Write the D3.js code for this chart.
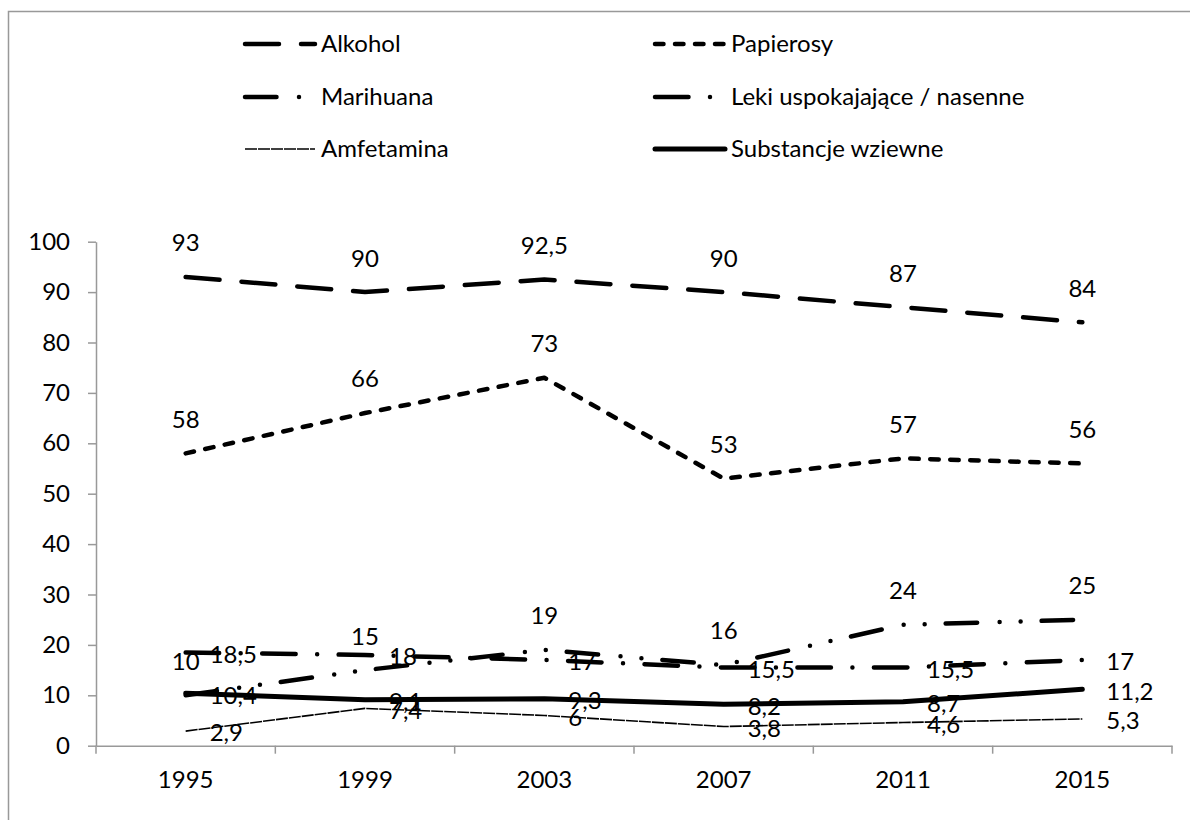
<!DOCTYPE html>
<html>
<head>
<meta charset="utf-8">
<script src="https://cdn.jsdelivr.net/npm/d3@7"></script>
<style>
  body { margin: 0; background: #fff; }
  text { font-family: Lato, "Open Sans", sans-serif; fill: #000; }
</style>
</head>
<body>
<div id="chart"></div>
<script>
const years = ['1995', '1999', '2003', '2007', '2011', '2015'];
const yTicks = [0, 10, 20, 30, 40, 50, 60, 70, 80, 90, 100];

const alkohol = [93, 90, 92.5, 90, 87, 84];
const papierosy = [58, 66, 73, 53, 57, 56];
const marihuana = [10, 15, 19, 16, 24, 25];
const leki = [18.5, 18, 17, 15.5, 15.5, 17];
const amfetamina = [2.9, 7.4, 6, 3.8, 4.6, 5.3];
const substancje = [10.4, 9.1, 9.3, 8.2, 8.7, 11.2];

const seriesNames = ['Alkohol', 'Papierosy', 'Marihuana', 'Leki uspokajające / nasenne', 'Amfetamina', 'Substancje wziewne'];

let width = 1190,
	height = 820;
let margin = { top: 241.7, right: 18, bottom: 74.3, left: 96 };
let fontSize = 24;

// line looks, in legend order
let styles = [
	{ w: 4.5, dash: '34,22', cap: 'round', label: 'above' },
	{ w: 4.5, dash: '8.5,11.5', cap: 'round', label: 'above' },
	{ w: 4.5, dash: '31.5,22.5,0,21,0,21', cap: 'round', label: 'above' },
	{ w: 4.5, dash: '33.5,21.5,0,21.5', cap: 'round', label: 'right' },
	{ w: 1.6, dash: '12,1', cap: 'butt', label: 'right' },
	{ w: 5, dash: null, cap: 'round', label: 'right' }
];
let values = [alkohol, papierosy, marihuana, leki, amfetamina, substancje];

let x = d3.scaleBand().domain(years).range([margin.left, width - margin.right]).padding(0);
let y = d3.scaleLinear().domain([0, 100]).range([height - margin.bottom, margin.top]);
let cx = (d) => x(d) + x.bandwidth() / 2;
let fmt = (v) => String(v).replace('.', ',');

const svg = d3.select('#chart').append('svg').attr('width', width).attr('height', height);

// chart frame
svg.append('rect')
	.attr('x', 8.5).attr('y', 11.5)
	.attr('width', width + 20).attr('height', height + 20)
	.attr('fill', 'none').attr('stroke', '#999').attr('stroke-width', 1.5);

// y axis
let yAxis = svg.append('g')
	.attr('transform', `translate(${margin.left},0)`)
	.call(d3.axisLeft(y).tickValues(yTicks).tickSize(8).tickPadding(18).tickSizeOuter(0));
yAxis.select('.domain').attr('stroke', '#999').attr('stroke-width', 1.5);
yAxis.selectAll('.tick line').attr('stroke', '#999').attr('stroke-width', 1.5);
yAxis.selectAll('text').attr('font-size', fontSize).attr('font-family', 'Lato').attr('fill', '#000');

// x axis
let xAxis = svg.append('g')
	.attr('transform', `translate(0,${y(0)})`)
	.call(d3.axisBottom(x).tickSize(0).tickPadding(25).tickSizeOuter(0));
xAxis.select('.domain').attr('stroke', '#999').attr('stroke-width', 1.5);
xAxis.selectAll('text').attr('font-size', fontSize).attr('font-family', 'Lato').attr('fill', '#000');

// category boundary ticks
let bounds = years.map((d) => x(d)).concat([x(years[years.length - 1]) + x.bandwidth()]);
svg.append('g')
	.selectAll('line')
	.data(bounds)
	.join('line')
	.attr('x1', (d) => d).attr('x2', (d) => d)
	.attr('y1', y(0)).attr('y2', y(0) + 8)
	.attr('stroke', '#999').attr('stroke-width', 1.5);

// lines
let line = d3.line().x((d, i) => cx(years[i])).y((d) => y(d));
let lines = svg.append('g');
values.forEach((vals, k) => {
	let s = styles[k];
	lines.append('path')
		.datum(vals)
		.attr('d', line)
		.attr('fill', 'none')
		.attr('stroke', '#000')
		.attr('stroke-width', s.w)
		.attr('stroke-linecap', s.cap)
		.attr('stroke-linejoin', 'round')
		.attr('stroke-dasharray', s.dash);
});

// data labels
let labels = svg.append('g').attr('font-size', fontSize);
values.forEach((vals, k) => {
	let s = styles[k];
	labels.selectAll(null)
		.data(vals)
		.join('text')
		.attr('x', (d, i) => (s.label === 'above' ? cx(years[i]) : cx(years[i]) + 24))
		.attr('y', (d) => (s.label === 'above' ? y(d) - 34 : y(d) + 2))
		.attr('dy', '0.35em')
		.attr('text-anchor', s.label === 'above' ? 'middle' : 'start')
		.text(fmt);
});

// legend
let legX = [245, 655],
	legY = [44, 97, 149];
let legend = svg.append('g');
seriesNames.forEach((name, k) => {
	let s = styles[k];
	let lx = legX[k % 2],
		ly = legY[Math.floor(k / 2)];
	legend.append('line')
		.attr('x1', lx).attr('x2', lx + 70)
		.attr('y1', ly).attr('y2', ly)
		.attr('stroke', '#000')
		.attr('stroke-width', s.w)
		.attr('stroke-linecap', s.cap)
		.attr('stroke-dasharray', s.dash);
	legend.append('text')
		.attr('x', lx + 76)
		.attr('y', ly)
		.attr('dy', '0.35em')
		.attr('font-size', fontSize)
		.text(name);
});
</script>
</body>
</html>
